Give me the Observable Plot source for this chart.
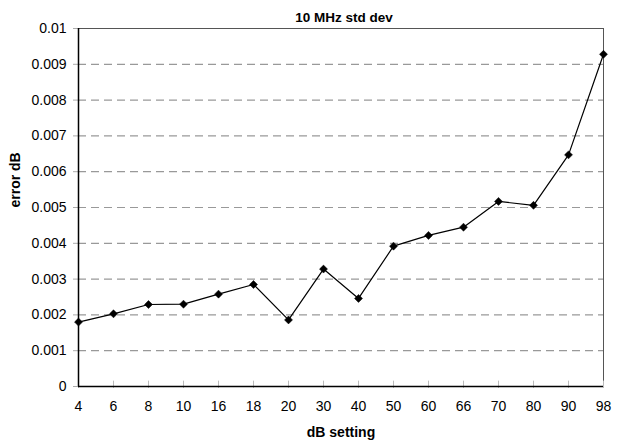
<!DOCTYPE html>
<html>
<head>
<meta charset="utf-8">
<script src="https://cdn.jsdelivr.net/npm/d3@7"></script>
<script src="https://cdn.jsdelivr.net/npm/@observablehq/plot@0.6"></script>
<style>
  html, body { margin: 0; padding: 0; background: #fff; }
  #chart svg { display: block; }
</style>
</head>
<body>
<div id="chart"></div>
<script>
const settings = ["4","6","8","10","16","18","20","30","40","50","60","66","70","80","90","98"];
const errorValues = [0.00180, 0.00203, 0.00229, 0.00230, 0.00258, 0.00285, 0.00186, 0.00328, 0.00246, 0.00392, 0.00422, 0.00445, 0.00517, 0.00506, 0.00647, 0.00928];
const yTicks = [0, 0.001, 0.002, 0.003, 0.004, 0.005, 0.006, 0.007, 0.008, 0.009, 0.01];
const yTickLabels = ["0", "0.001", "0.002", "0.003", "0.004", "0.005", "0.006", "0.007", "0.008", "0.009", "0.01"];
const titleText = "10 MHz std dev";
const xLabel = "dB setting";
const yLabel = "error dB";

const data = settings.map((s, i) => ({setting: s, value: errorValues[i]}));
const gridTicks = yTicks.filter(t => t > 0 && t < 0.01);

const chart = Plot.plot({
  width: 624,
  height: 448,
  marginLeft: 78,
  marginRight: 21,
  marginTop: 28,
  marginBottom: 62,
  style: {fontFamily: "'Liberation Sans', Arial, sans-serif", fontSize: "14px", color: "#000", background: "#fff"},
  x: {type: "point", domain: settings, padding: 0, label: null},
  y: {domain: [0, 0.01], label: null},
  marks: [
    Plot.ruleY(gridTicks, {stroke: "#999", strokeWidth: 1.2, strokeDasharray: "8,5"}),
    Plot.frame({stroke: "#555", strokeWidth: 1}),
    Plot.axisY({ticks: yTicks, tickFormat: (d, i) => yTickLabels[i], tickSize: 5, tickPadding: 7, stroke: "#aaa", fontSize: 14, color: "#000"}),
    Plot.axisX({ticks: settings, tickSize: 2, tickPadding: 13, stroke: "#bbb", fontSize: 14}),
    Plot.ruleX(settings, {x: d => d, y1: 0, y2: 0.00015, stroke: "#bbb"}),
    Plot.ruleX([settings[0]], {stroke: "#000", strokeWidth: 1.5}),
    Plot.ruleY([0], {stroke: "#000", strokeWidth: 1.5}),
    Plot.line(data, {x: "setting", y: "value", stroke: "#000", strokeWidth: 1.2}),
    Plot.dot(data, {x: "setting", y: "value", symbol: "diamond2", r: 3.6, fill: "#000", stroke: "#000", strokeWidth: 0.5}),
    Plot.text([titleText], {frameAnchor: "top", dx: 3, dy: -16, fontWeight: "bold", fontSize: 13.5, fill: "#000"}),
    Plot.text([xLabel], {frameAnchor: "bottom", dy: 50, fontWeight: "bold", fontSize: 14, fill: "#000"}),
    Plot.text([yLabel], {frameAnchor: "left", dx: -63, rotate: -90, fontWeight: "bold", fontSize: 14, fill: "#000"})
  ]
});
document.getElementById("chart").appendChild(chart);
</script>
</body>
</html>
